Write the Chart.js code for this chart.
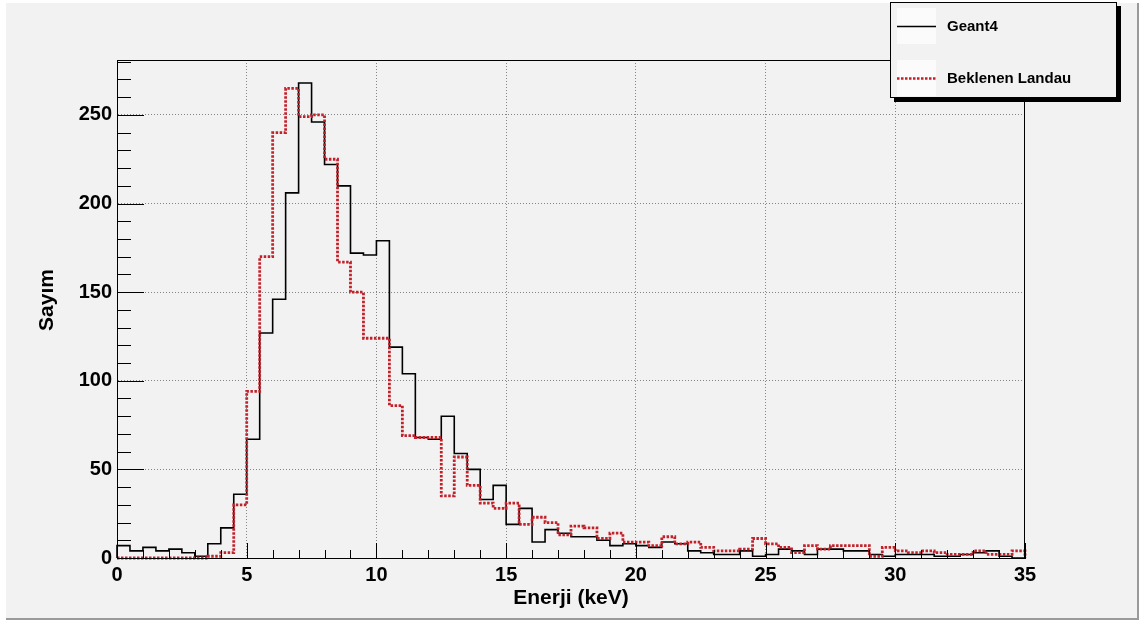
<!DOCTYPE html>
<html>
<head>
<meta charset="utf-8">
<script src="https://cdn.jsdelivr.net/npm/chart.js@4.4.1/dist/chart.umd.min.js"></script>
<style>
  html, body { margin: 0; padding: 0; background: #ffffff; overflow: hidden; }
  canvas { display: block; }
</style>
</head>
<body>
<canvas id="spectrum" width="1144" height="623"></canvas>
<script>
// Energy binning of the histograms (keV)
const energyMin = 0;
const energyMax = 35;
const binWidth = 0.5;

// Counts per 0.5 keV bin, starting at 0 keV
const geant4Counts = [
  7, 4, 6, 4, 5, 3, 1, 8, 17, 36,
  67, 127, 146, 206, 268, 246, 222, 210, 172, 171,
  179, 119, 104, 68, 67, 80, 59, 50, 33, 41,
  19, 28, 9, 16, 14, 12, 12, 10, 7, 8,
  7, 6, 9, 8, 4, 3, 2, 2, 4, 1,
  2, 5, 4, 2, 5, 5, 4, 4, 2, 1,
  2, 2, 2, 1, 1, 2, 3, 4, 1, 0
];
const landauCounts = [
  0, 0, 0, 0, 0, 0, 0, 1, 3, 30,
  94, 170, 240, 265, 249, 250, 225, 167, 150, 124,
  124, 86, 69, 68, 68, 35, 57, 41, 31, 28,
  31, 19, 23, 20, 13, 18, 17, 11, 14, 9,
  9, 7, 12, 8, 9, 6, 4, 4, 5, 11,
  8, 6, 3, 7, 5, 7, 7, 7, 1, 6,
  4, 3, 4, 3, 2, 2, 4, 2, 2, 4
];

// Axis ticks and labels
const xMajorStep = 5;
const xMinorStep = 1;
const yMajorStep = 50;
const yMinorStep = 10;
const yMax = 281;
const seriesNames = ['Geant4', 'Beklenen Landau'];
const xTitle = 'Enerji (keV)';
const yTitle = 'Sayım';

const FONT = "'Liberation Sans', Arial, Helvetica, sans-serif";
const PAD_BG = '#f2f2f2';
const LANDAU_RED = '#c3202a';

// Step outline of a histogram: baseline -> bins -> baseline
function histogramOutline(counts) {
  const pts = [{ x: energyMin, y: 0 }];
  counts.forEach((c, i) => pts.push({ x: energyMin + i * binWidth, y: c }));
  const last = energyMin + counts.length * binWidth;
  pts.push({ x: last, y: counts[counts.length - 1] });
  pts.push({ x: last, y: 0 });
  return pts;
}

// ROOT-like canvas pad with bevelled border
const padBackground = {
  id: 'padBackground',
  beforeDraw(chart) {
    const { ctx, width, height } = chart;
    ctx.save();
    ctx.fillStyle = '#ffffff';
    ctx.fillRect(0, 0, width, height);
    ctx.fillStyle = PAD_BG;
    ctx.fillRect(6, 3, 1132, 616);
    ctx.strokeStyle = '#9a9a9a';
    ctx.lineWidth = 2;
    ctx.beginPath();
    ctx.moveTo(1138, 3); ctx.lineTo(1138, 619); ctx.lineTo(6, 619);
    ctx.stroke();
    ctx.restore();
  }
};

// Inner tick marks, frame around the plot area and axis titles
const frameTicks = {
  id: 'frameTicks',
  afterDatasetsDraw(chart) {
    const { ctx, chartArea: a, scales: { x, y } } = chart;
    ctx.save();
    ctx.strokeStyle = '#000';
    ctx.lineWidth = 1;
    ctx.beginPath();
    for (let v = energyMin; v <= energyMax + 1e-9; v += xMinorStep) {
      const px = Math.round(x.getPixelForValue(v)) + 0.5;
      const len = (Math.round(v) % xMajorStep === 0) ? 15 : 8;
      ctx.moveTo(px, a.bottom);
      ctx.lineTo(px, a.bottom - len);
    }
    for (let v = 0; v <= yMax; v += yMinorStep) {
      const py = Math.round(y.getPixelForValue(v)) + 0.5;
      const len = (v % yMajorStep === 0) ? 27 : 14;
      ctx.moveTo(a.left, py);
      ctx.lineTo(a.left + len, py);
    }
    ctx.stroke();
    ctx.strokeRect(Math.round(a.left) + 0.5, Math.round(a.top) + 0.5,
      Math.round(a.right - a.left) - 1, Math.round(a.bottom - a.top));

    ctx.fillStyle = '#000';
    ctx.font = 'bold 21px ' + FONT;
    ctx.textAlign = 'center';
    ctx.textBaseline = 'alphabetic';
    ctx.fillText(xTitle, (a.left + a.right) / 2, 603.5);
    ctx.translate(53, 300);
    ctx.rotate(-Math.PI / 2);
    ctx.fillText(yTitle, 0, 0);
    ctx.restore();
  }
};

// Legend box with drop shadow in the top right corner
const rootLegend = {
  id: 'rootLegend',
  afterDraw(chart) {
    const { ctx } = chart;
    const bx = 890, by = 2, bw = 227, bh = 96;
    ctx.save();
    ctx.fillStyle = '#000';
    ctx.fillRect(bx + 4, by + 4, bw, bh);
    ctx.fillStyle = PAD_BG;
    ctx.fillRect(bx, by, bw, bh);
    ctx.strokeStyle = '#000';
    ctx.lineWidth = 1;
    ctx.strokeRect(bx + 0.5, by + 0.5, bw - 1, bh - 1);

    const rows = [26, 78];
    const styles = [
      { color: '#000', width: 1.5, dash: [] },
      { color: LANDAU_RED, width: 2.5, dash: [2.5, 1.5] }
    ];
    rows.forEach((ry, i) => {
      ctx.fillStyle = '#fbfbfb';
      ctx.fillRect(897, ry - 18, 39, 36);
      ctx.strokeStyle = styles[i].color;
      ctx.lineWidth = styles[i].width;
      ctx.setLineDash(styles[i].dash);
      ctx.beginPath();
      ctx.moveTo(897, ry + 0.5);
      ctx.lineTo(936, ry + 0.5);
      ctx.stroke();
      ctx.setLineDash([]);
      ctx.fillStyle = '#000';
      ctx.font = 'bold 15px ' + FONT;
      ctx.textBaseline = 'middle';
      ctx.textAlign = 'left';
      ctx.fillText(seriesNames[i], 947, ry + 1);
    });
    ctx.restore();
  }
};

const gridColor = (edgeValues) => (c) =>
  (c.tick && edgeValues.includes(c.tick.value)) ? 'rgba(0,0,0,0)' : '#858585';

new Chart(document.getElementById('spectrum'), {
  type: 'line',
  data: {
    datasets: [
      {
        label: seriesNames[0],
        data: histogramOutline(geant4Counts),
        borderColor: '#000000',
        borderWidth: 1.6,
        stepped: true,
        pointRadius: 0,
        fill: false,
        order: 2,
        clip: 4
      },
      {
        label: seriesNames[1],
        data: histogramOutline(landauCounts),
        borderColor: LANDAU_RED,
        borderWidth: 2.8,
        borderDash: [2.5, 1.5],
        borderCapStyle: 'butt',
        stepped: true,
        pointRadius: 0,
        fill: false,
        order: 1,
        clip: 4
      }
    ]
  },
  options: {
    responsive: false,
    animation: false,
    events: [],
    layout: { padding: { top: 60, right: 119, left: 0, bottom: 0 } },
    plugins: { legend: { display: false }, tooltip: { enabled: false } },
    scales: {
      x: {
        type: 'linear',
        min: energyMin,
        max: energyMax,
        afterFit(scale) { scale.height = 65; },
        ticks: {
          stepSize: xMajorStep,
          color: '#000',
          padding: 5,
          maxRotation: 0,
          autoSkip: false,
          font: { family: FONT, size: 20, weight: 'bold', lineHeight: 1.2 }
        },
        grid: { drawTicks: false, color: gridColor([energyMin, energyMax]), lineWidth: 1 },
        border: { display: true, color: '#000', width: 1, dash: [1, 2] }
      },
      y: {
        type: 'linear',
        min: 0,
        max: yMax,
        afterFit(scale) { scale.width = 117; },
        ticks: {
          stepSize: yMajorStep,
          includeBounds: false,
          color: '#000',
          padding: 5,
          font: { family: FONT, size: 20, weight: 'bold', lineHeight: 1.2 }
        },
        grid: { drawTicks: false, color: gridColor([0]), lineWidth: 1 },
        border: { display: true, color: '#000', width: 1, dash: [1, 2] }
      }
    }
  },
  plugins: [padBackground, frameTicks, rootLegend]
});
</script>
</body>
</html>
